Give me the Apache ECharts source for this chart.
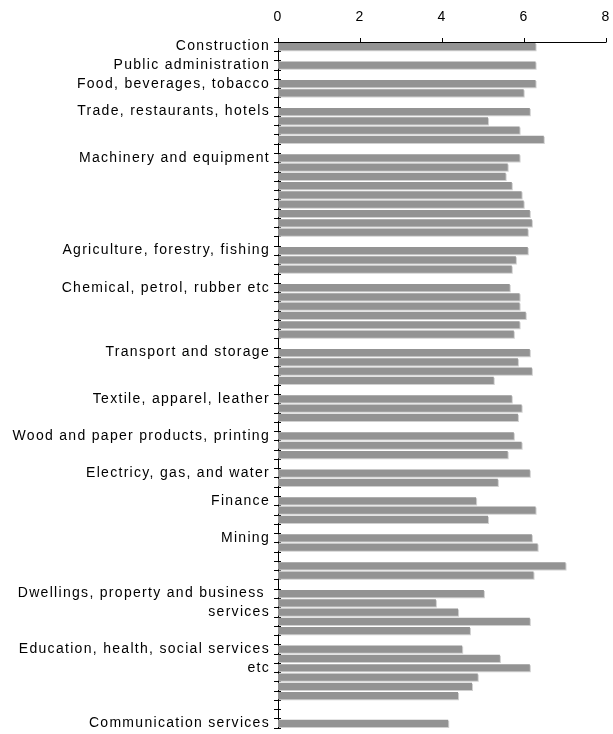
<!DOCTYPE html>
<html>
<head>
<meta charset="utf-8">
<script src="https://cdn.jsdelivr.net/npm/echarts@6/dist/echarts.min.js"></script>
<style>
html,body{margin:0;padding:0;background:#fff;}
#c{width:613px;height:734px;}
</style>
</head>
<body>
<div id="c"></div>
<script>
// Category labels (one per slot; empty strings are unlabeled slots)
var categories = [
  'Construction', '', 'Public administration', '', 'Food, beverages, tobacco', '', '',
  'Trade, restaurants, hotels', '', '', '', '',
  'Machinery and equipment', '', '', '', '', '', '', '', '', '',
  'Agriculture, forestry, fishing', '', '', '',
  'Chemical, petrol, rubber etc', '', '', '', '', '', '',
  'Transport and storage', '', '', '', '',
  'Textile, apparel, leather', '', '', '',
  'Wood and paper products, printing', '', '', '',
  'Electricy, gas, and water', '', '',
  'Finance', '', '', '',
  'Mining', '', '', '', '', '', '',
  'Dwellings, property and business \nservices', '', '', '', '', '',
  'Education, health, social services\netc', '', '', '', '', '', '',
  'Communication services'
];
// Bar values (null = empty slot)
var values = [
  6.28, null, 6.28, null, 6.28, 5.99, null,
  6.14, 5.12, 5.89, 6.48, null,
  5.89, 5.60, 5.55, 5.70, 5.94, 5.99, 6.14, 6.19, 6.09, null,
  6.09, 5.80, 5.70, null,
  5.65, 5.89, 5.89, 6.04, 5.89, 5.75, null,
  6.14, 5.85, 6.19, 5.26, null,
  5.70, 5.94, 5.85, null,
  5.75, 5.94, 5.60, null,
  6.14, 5.36, null,
  4.83, 6.28, 5.12, null,
  6.19, 6.33, null, 7.01, 6.23, null, 5.02,
  3.85, 4.39, 6.14, 4.68, null, 4.49,
  5.41, 6.14, 4.87, 4.73, 4.39, null, null,
  4.15
];
var xTicks = [0, 2, 4, 6, 8];

// Slight letter spacing to mimic the reference text rendering
(function(){
  var P = CanvasRenderingContext2D.prototype;
  var orig = P.fillText;
  P.fillText = function(){
    try { this.letterSpacing = '1.3px'; } catch(e){}
    return orig.apply(this, arguments);
  };
})();

var chart = echarts.init(document.getElementById('c'), null, {renderer:'canvas'});
var font = 'Liberation Sans, Arial, sans-serif';
chart.setOption({
  animation: false,
  backgroundColor: '#ffffff',
  grid: {left: 278, right: 6, top: 42, bottom: 6, containLabel: false},
  xAxis: {
    type: 'value', position: 'top', min: xTicks[0], max: xTicks[xTicks.length-1], interval: 2,
    axisLine: {show: true, lineStyle: {color: '#000', width: 1}},
    axisTick: {show: true, length: 4, lineStyle: {color: '#000'}},
    splitLine: {show: false},
    axisLabel: {color: '#000', fontSize: 14, fontFamily: font, margin: 18}
  },
  yAxis: [{
    type: 'category', data: categories, inverse: true,
    axisLine: {show: true, lineStyle: {color: '#000', width: 1}},
    axisTick: {show: true, length: 4, interval: 0, lineStyle: {color: '#000'}},
    axisLabel: {interval: 0, color: '#000', fontSize: 14, fontFamily: font, margin: 8, lineHeight: 19, align: 'right'}
  }, {
    type: 'category', data: categories, inverse: true, position: 'left',
    axisLine: {show: false},
    axisTick: {show: true, inside: true, length: 3, interval: 0, lineStyle: {color: '#000'}},
    axisLabel: {show: false}
  }],
  series: [{
    type: 'bar', data: values, yAxisIndex: 0, barCategoryGap: '22%',
    itemStyle: {color: '#939393', shadowColor: '#d0d0d0', shadowOffsetX: 1, shadowOffsetY: 1, shadowBlur: 0}
  }]
});
</script>
</body>
</html>
